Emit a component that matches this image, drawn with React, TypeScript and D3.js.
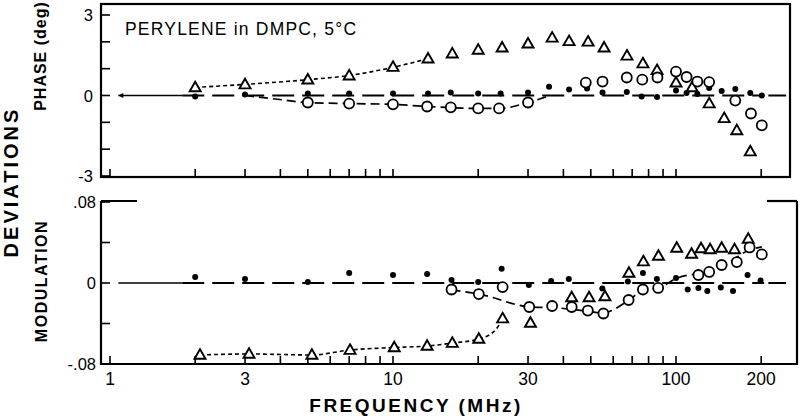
import React from "react";
import * as d3 from "d3";

// ---- Data ----
const xTickLabels = [1, 3, 10, 30, 100, 200];
const phaseTicks = [-3, -2, -1, 0, 1, 2, 3];
const phaseTickLabels = [
  { v: 3, t: "3" },
  { v: 0, t: "0" },
  { v: -3, t: "-3" },
];
const modTicks = [-0.08, -0.04, 0, 0.04, 0.08];
const modTickLabels = [
  { v: 0.08, t: ".08" },
  { v: 0, t: "0" },
  { v: -0.08, t: "-.08" },
];

// Phase panel — filled dots
const phaseDotF = [2, 3, 5, 7, 10, 13.3, 16, 20, 24, 30, 35.6, 41.9, 48.5, 55, 67, 75.6, 85.7, 100, 109, 119, 131, 145, 162, 183, 201];
const phaseDotV = [-0.04, 0.04, 0.07, 0.07, 0.07, 0.07, 0.11, 0.07, 0.07, 0.11, 0.33, 0.22, 0.26, 0.11, 0.13, -0.04, -0.06, 0.19, 0.09, 0.06, 0.28, 0.17, 0.24, 0.09, 0];
// Phase panel — open triangles
const phaseTriF = [2, 3, 5, 7, 10, 13.3, 16.2, 20, 24.3, 30, 36.5, 41.9, 48.9, 55.7, 67.1, 76.4, 85.7, 100, 114, 131, 148, 164, 183];
const phaseTriV = [0.3, 0.41, 0.59, 0.74, 1.06, 1.37, 1.56, 1.7, 1.78, 1.93, 2.15, 2.02, 2.0, 1.78, 1.48, 1.19, 0.94, 0.48, 0.3, -0.3, -0.85, -1.3, -2.09];
// Phase panel — open circles
const phaseCirF = [5, 7, 10, 13.2, 16, 20, 23.7, 30, 48, 55, 67, 76, 86, 100, 109, 119, 131, 162, 184, 201];
const phaseCirV = [-0.26, -0.3, -0.33, -0.41, -0.44, -0.48, -0.48, -0.26, 0.48, 0.52, 0.67, 0.59, 0.67, 0.89, 0.69, 0.52, 0.5, -0.19, -0.67, -1.11];
// Phase panel — dashed guide curves
const phaseTriFitF = [2.0, 2.95, 5.0, 6.93, 10.1, 12.8];
const phaseTriFitV = [0.3, 0.41, 0.59, 0.74, 1.06, 1.33];
const phaseCirFitF = [3.0, 3.98, 4.93, 6.93, 10, 13.3, 19.8, 23.9, 30, 35];
const phaseCirFitV = [0, -0.15, -0.26, -0.3, -0.33, -0.41, -0.48, -0.48, -0.26, -0.04];

// Modulation panel — filled dots
const modDotF = [2, 3, 5, 7, 10, 13.2, 16.1, 20, 24.2, 30.2, 36.2, 41.8, 54.9, 67.6, 76.4, 85.6, 100, 110, 120, 129, 144, 159, 179, 199];
const modDotV = [0.006, 0.004, 0.001, 0.01, 0.008, 0.009, 0.003, 0.001, 0.014, -0.002, 0.002, 0.004, -0.0054, 0.0015, 0.01, 0.004, 0.005, -0.0064, -0.0049, -0.0079, -0.0044, -0.0079, 0.0079, 0.0025];
// Modulation panel — open triangles
const modTriF = [2.08, 3.1, 5.17, 7.05, 10.1, 13.2, 16.2, 20.1, 24.4, 30.6, 42.8, 49.3, 56.1, 68.2, 76.7, 86.7, 100.6, 113.5, 122.6, 132, 145, 161, 180];
const modTriV = [-0.0711, -0.0701, -0.0711, -0.0662, -0.0637, -0.0622, -0.0593, -0.0553, -0.0351, -0.0395, -0.0143, -0.0143, -0.0133, 0.0099, 0.0212, 0.0267, 0.0346, 0.0287, 0.0341, 0.0331, 0.0346, 0.0331, 0.0435];
// Modulation panel — open circles
const modCirF = [16.1, 20.1, 24.4, 30.3, 36.5, 42.8, 48.8, 55.4, 68, 76.4, 86.5, 120, 131, 145, 164, 182, 201];
const modCirV = [-0.0064, -0.0109, -0.004, -0.0237, -0.0227, -0.0237, -0.0272, -0.0301, -0.0168, -0.0064, -0.0049, 0.0079, 0.0109, 0.0178, 0.0207, 0.0351, 0.0282];
// Modulation panel — dashed guide curves
const modTriFitF = [2.08, 3.1, 5.17, 7.05, 10.1, 13.3, 16.2, 20.1, 23.0, 24.4];
const modTriFitV = [-0.0711, -0.0701, -0.0711, -0.0662, -0.0637, -0.0622, -0.0593, -0.0553, -0.0464, -0.0356];
const modCirFitF = [16.1, 20.1, 30.6, 38.4, 48.1, 54.9, 68.2, 76.8, 86.5, 101, 121, 146, 182, 201];
const modCirFitV = [-0.0069, -0.0109, -0.0237, -0.0247, -0.0277, -0.0296, -0.0168, -0.0069, -0.0049, 0.0049, 0.0099, 0.0168, 0.0326, 0.0356];

const FONT = "'Liberation Sans', Arial, sans-serif";

const x = d3.scaleLog().domain([1, 200]).range([110, 110 + 283 * Math.log10(200)]);
const yP = d3.scaleLinear().domain([-3, 3]).range([176, 15]);
const yM = d3.scaleLinear().domain([-0.08, 0.08]).range([364, 202]);

const minorTicks: number[] = [];
for (const dec of [1, 10, 100]) {
  for (let k = 1; k <= 9; k++) {
    const v = k * dec;
    if (v <= 200) minorTicks.push(v);
  }
}

function zip(f: number[], v: number[]) {
  return f.map((ff, i) => [ff, v[i]] as [number, number]);
}

function triPath(cx: number, cy: number, s = 11) {
  const h = s * 0.87;
  return `M${cx},${cy - h * 0.6}L${cx + s / 2},${cy + h * 0.4}L${cx - s / 2},${cy + h * 0.4}Z`;
}

function Panel({
  y,
  dotF, dotV, triF, triV, cirF, cirV,
  triFit, cirFit,
  arrow,
}: any) {
  const curve = d3.line<[number, number]>().x((d) => x(d[0])).y((d) => y(d[1])).curve(d3.curveMonotoneX);
  const y0 = y(0);
  return (
    <g>
      {/* zero reference line */}
      <line x1={x(1.07)} x2={x(1.8)} y1={y0} y2={y0} stroke="#000" strokeWidth={1.6} />
      <line x1={x(1.8)} x2={x(205)} y1={y0} y2={y0} stroke="#000" strokeWidth={2} strokeDasharray="22 8" />
      <line x1={x(212)} x2={x(245)} y1={y0} y2={y0} stroke="#000" strokeWidth={2} />
      {arrow && (
        <path d={`M${x(1.07)},${y0}l5,-2.5l0,5z`} fill="#000" />
      )}
      <path d={curve(zip(triFit[0], triFit[1])) || ""} fill="none" stroke="#000" strokeWidth={1.6} strokeDasharray="4 3" />
      <path d={curve(zip(cirFit[0], cirFit[1])) || ""} fill="none" stroke="#000" strokeWidth={1.7} strokeDasharray="9 5" />
      {dotF.map((f: number, i: number) => (
        <circle key={"d" + i} cx={x(f)} cy={y(dotV[i])} r={3} fill="#000" />
      ))}
      {triF.map((f: number, i: number) => (
        <path key={"t" + i} d={triPath(x(f), y(triV[i]))} fill="#fff" stroke="#000" strokeWidth={1.9} />
      ))}
      {cirF.map((f: number, i: number) => (
        <circle key={"c" + i} cx={x(f)} cy={y(cirV[i])} r={5} fill="#fff" stroke="#000" strokeWidth={1.8} />
      ))}
    </g>
  );
}

export default function App() {
  const topL = 101, topR = 790, topT = 4, topB = 177;
  const botL = 101, botR = 797, botT = 201, botB = 364;
  return (
    <svg width={800} height={416} style={{ display: "block", position: "absolute", left: 0, top: 0, background: "#fff" }} fontFamily={FONT}>
      <rect width={800} height={416} fill="#fff" />
      {/* Top frame */}
      <rect x={topL} y={topT} width={topR - topL} height={topB - topT} fill="none" stroke="#000" strokeWidth={2.2} />
      {/* Bottom frame (top edge only partly visible) */}
      <path d={`M${botL},${botT}L${botL},${botB}L${botR},${botB}L${botR},${botT}`} fill="none" stroke="#000" strokeWidth={2.2} />
      <line x1={botL} x2={137} y1={botT} y2={botT} stroke="#000" strokeWidth={2.2} />
      <line x1={767} x2={botR} y1={botT} y2={botT} stroke="#000" strokeWidth={2.2} />

      {/* x ticks */}
      {minorTicks.map((t) => (
        <g key={"xt" + t}>
          <line x1={x(t)} x2={x(t)} y1={topB} y2={topB - 8} stroke="#000" strokeWidth={1.6} />
          <line x1={x(t)} x2={x(t)} y1={botB} y2={botB - 8} stroke="#000" strokeWidth={1.6} />
        </g>
      ))}
      {xTickLabels.map((t) => (
        <text key={"xl" + t} x={x(t)} y={385} fontSize={17.5} textAnchor="middle">{t}</text>
      ))}

      {/* y ticks */}
      {phaseTicks.map((t) => (
        <line key={"pt" + t} x1={topL} x2={topL + 9} y1={yP(t)} y2={yP(t)} stroke="#000" strokeWidth={1.6} />
      ))}
      {phaseTickLabels.map((d) => (
        <text key={"pl" + d.t} x={93} y={yP(d.v) + 6} fontSize={16.5} textAnchor="end">{d.t}</text>
      ))}
      {modTicks.map((t) => (
        <line key={"mt" + t} x1={botL} x2={botL + 9} y1={yM(t)} y2={yM(t)} stroke="#000" strokeWidth={1.6} />
      ))}
      {modTickLabels.map((d) => (
        <text key={"ml" + d.t} x={96} y={yM(d.v) + 6} fontSize={16.5} textAnchor="end">{d.t}</text>
      ))}

      <Panel
        y={yP}
        dotF={phaseDotF} dotV={phaseDotV}
        triF={phaseTriF} triV={phaseTriV}
        cirF={phaseCirF} cirV={phaseCirV}
        triFit={[phaseTriFitF, phaseTriFitV]}
        cirFit={[phaseCirFitF, phaseCirFitV]}
        arrow
      />
      <Panel
        y={yM}
        dotF={modDotF} dotV={modDotV}
        triF={modTriF} triV={modTriV}
        cirF={modCirF} cirV={modCirV}
        triFit={[modTriFitF, modTriFitV]}
        cirFit={[modCirFitF, modCirFitV]}
      />

      {/* Title */}
      <text x={125} y={35} fontSize={17.5} letterSpacing={1.2}>PERYLENE in DMPC, 5°C</text>

      {/* Axis titles */}
      <text x={416} y={412} fontSize={19} fontWeight="bold" letterSpacing={2.5} textAnchor="middle">FREQUENCY (MHz)</text>
      <text transform="translate(18,182) rotate(-90)" fontSize={20} fontWeight="bold" letterSpacing={3} textAnchor="middle">DEVIATIONS</text>
      <text transform="translate(46,56) rotate(-90)" fontSize={16} fontWeight="bold" letterSpacing={1} textAnchor="middle">PHASE (deg)</text>
      <text transform="translate(47,281) rotate(-90)" fontSize={16} fontWeight="bold" letterSpacing={1.5} textAnchor="middle">MODULATION</text>
    </svg>
  );
}
